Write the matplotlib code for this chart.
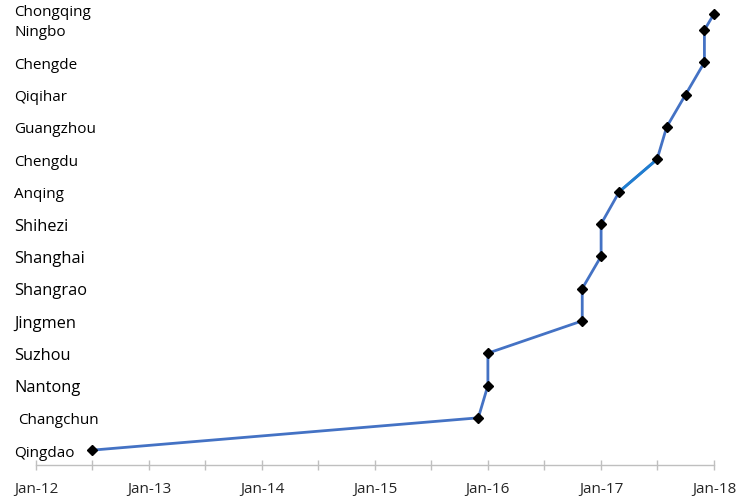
import matplotlib
matplotlib.use("Agg")
import matplotlib.pyplot as plt
import matplotlib.dates as mdates
import datetime as dt

cities = ["Qingdao", "Changchun", "Nantong", "Suzhou", "Jingmen", "Shangrao",
          "Shanghai", "Shihezi", "Anqing", "Chengdu", "Guangzhou", "Qiqihar",
          "Chengde", "Ningbo", "Chongqing"]
dates = ["2012-07-01", "2015-12-01", "2016-01-01", "2016-01-01", "2016-11-01",
         "2016-11-01", "2017-01-01", "2017-01-01", "2017-03-01", "2017-07-01",
         "2017-08-01", "2017-10-01", "2017-12-01", "2017-12-01", "2018-01-01"]
ranks = [1, 2, 3, 4, 5, 6, 7, 8, 9, 10, 11, 12, 13, 14, 14.5]
large_labels = ["Nantong", "Suzhou", "Jingmen", "Shangrao", "Shanghai", "Shihezi"]
x_tick_labels = ["Jan-12", "Jan-13", "Jan-14", "Jan-15", "Jan-16", "Jan-17", "Jan-18"]

plt.rcParams['font.family'] = ['Open Sans', 'DejaVu Sans']

x = [dt.datetime.strptime(d, "%Y-%m-%d") for d in dates]

fig = plt.figure(figsize=(7.44, 5.02), dpi=100)
ax = fig.add_axes([36/744, 1 - 466/502, (714-36)/744, 466/502])

main_color = "#4472C4"
ax.plot(x, ranks, color=main_color, lw=2.0, zorder=2, clip_on=False)
i = cities.index("Anqing")
ax.plot(x[i:i+2], ranks[i:i+2], color="#1F7ED0", lw=2.0, zorder=2, clip_on=False)
ax.plot(x, ranks, ls="none", marker="D", ms=5, color="black", zorder=3, clip_on=False)

ax.set_xlim(dt.datetime(2012, 1, 1), dt.datetime(2018, 1, 1))
ax.set_ylim(0.54, 14.96)

ax.xaxis.set_minor_locator(mdates.MonthLocator(bymonth=7))
ax.set_xticks([dt.datetime(2012 + k, 1, 1) for k in range(len(x_tick_labels))])
ax.set_xticklabels(x_tick_labels)
ax.tick_params(axis="x", which="both", direction="inout", length=7.5, width=1,
               color="#BFBFBF", labelsize=11, pad=8, labelcolor="#262626")

ax.set_yticks([])
for s in ["top", "right", "left"]:
    ax.spines[s].set_visible(False)
ax.spines["bottom"].set_color("#BFBFBF")
ax.spines["bottom"].set_linewidth(1)

# City labels at the left margin, aligned with each point's rank
trans = matplotlib.transforms.blended_transform_factory(fig.transFigure, ax.transData)
for c, r in zip(cities, ranks):
    size = 11.8 if c in large_labels else 11
    xo = 18/744 if c == "Changchun" else 14/744
    yo = 0.06 if c == "Chongqing" else -0.06
    ax.text(xo, r + yo, c, transform=trans, ha="left", va="center", fontsize=size,
            color="black", clip_on=False)

fig.savefig("out.png", dpi=100)
